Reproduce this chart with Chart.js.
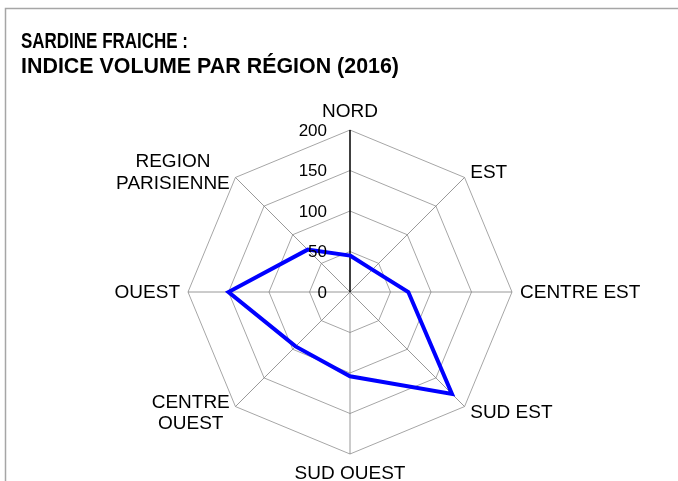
<!DOCTYPE html>
<html>
<head>
<meta charset="utf-8">
<script src="https://cdn.jsdelivr.net/npm/chart.js@4/dist/chart.umd.min.js"></script>
<style>
  html, body { margin: 0; padding: 0; background: #fff; }
  canvas { display: block; }
</style>
</head>
<body>
<canvas id="radar" width="678" height="481"></canvas>
<script>
const regions = ['NORD', 'EST', 'CENTRE EST', 'SUD EST', 'SUD OUEST', ['CENTRE', 'OUEST'], 'OUEST', ['REGION', 'PARISIENNE']];
const volumeIndex = [45, 39, 72, 178, 104, 95, 150, 74];
const tickValues = [0, 50, 100, 150, 200];
const titleLines = ['SARDINE FRAICHE :', 'INDICE VOLUME PAR RÉGION (2016)'];

const labelFont = "19px 'Liberation Sans', Arial, sans-serif";
const tickFont = "17px 'Liberation Sans', Arial, sans-serif";
const titleFont = "bold 21.5px 'Liberation Sans', Arial, sans-serif";
const titleWidths = [167, 378];

// frame, title, axis numbers and region names, drawn around the radar scale
const decorations = {
    id: 'decorations',
    beforeDraw(chart) {
        const ctx = chart.ctx;
        ctx.save();
        ctx.strokeStyle = '#a6a6a6';
        ctx.lineWidth = 1.5;
        ctx.beginPath();
        ctx.moveTo(5.5, chart.height);
        ctx.lineTo(5.5, 8.5);
        ctx.lineTo(chart.width, 8.5);
        ctx.stroke();
        ctx.restore();
    },
    afterDraw(chart) {
        const ctx = chart.ctx;
        const scale = chart.scales.r;
        ctx.save();
        ctx.fillStyle = '#000';

        // title, each line squeezed to its box width
        ctx.font = titleFont;
        ctx.textAlign = 'left';
        ctx.textBaseline = 'alphabetic';
        titleLines.forEach((line, i) => ctx.fillText(line, 21, 48 + i * 25, titleWidths[i]));

        // value labels on the left of the NORD axis
        ctx.font = tickFont;
        ctx.textAlign = 'right';
        ctx.textBaseline = 'middle';
        tickValues.forEach(v => {
            const y = scale.yCenter - scale.getDistanceFromCenterForValue(v);
            ctx.fillText(String(v), scale.xCenter - 23, y + 1);
        });

        // region names just outside the outer polygon
        ctx.font = labelFont;
        const lineH = 21.7;
        regions.forEach((label, i) => {
            const lines = Array.isArray(label) ? label : [label];
            const p = scale.getPointPosition(i, scale.drawingArea + 8);
            const widths = lines.map(l => ctx.measureText(l).width);
            const blockW = Math.max(...widths);
            const blockH = lines.length * lineH;
            let left;
            if (Math.abs(p.x - scale.xCenter) < 1) left = p.x - blockW / 2;
            else if (p.x > scale.xCenter) left = p.x;
            else left = p.x - blockW;
            let top;
            if (Math.abs(p.y - scale.yCenter) < 1 || Math.abs(p.x - scale.xCenter) >= 1) top = p.y - blockH / 2;
            else if (p.y < scale.yCenter) top = p.y - blockH;
            else top = p.y;
            ctx.textAlign = 'center';
            ctx.textBaseline = 'middle';
            lines.forEach((l, k) => {
                ctx.fillText(l, left + blockW / 2, top + lineH * (k + 0.5) + 1);
            });
        });
        ctx.restore();
    }
};

new Chart(document.getElementById('radar'), {
    type: 'radar',
    data: {
        labels: regions,
        datasets: [
            {
                label: 'Indice volume',
                data: volumeIndex,
                borderColor: '#0000ff',
                borderWidth: 4,
                borderJoinStyle: 'miter',
                fill: false,
                pointRadius: 0,
                pointHoverRadius: 0,
                tension: 0
            }
        ]
    },
    options: {
        responsive: false,
        animation: false,
        layout: {
            padding: { left: 188, right: 165, top: 130, bottom: 26 }
        },
        plugins: {
            legend: { display: false },
            title: { display: false },
            tooltip: { enabled: false }
        },
        scales: {
            r: {
                min: 0,
                max: 200,
                ticks: { display: false, stepSize: 50 },
                pointLabels: { display: false },
                grid: { circular: false, color: '#a6a6a6', lineWidth: 1 },
                angleLines: {
                    // the NORD axis carries the values and is drawn in black
                    color: ctx => ctx.index === 0 ? '#000000' : '#7f7f7f',
                    lineWidth: ctx => ctx.index === 0 ? 1.5 : 0.8
                }
            }
        }
    },
    plugins: [decorations]
});
</script>
</body>
</html>
